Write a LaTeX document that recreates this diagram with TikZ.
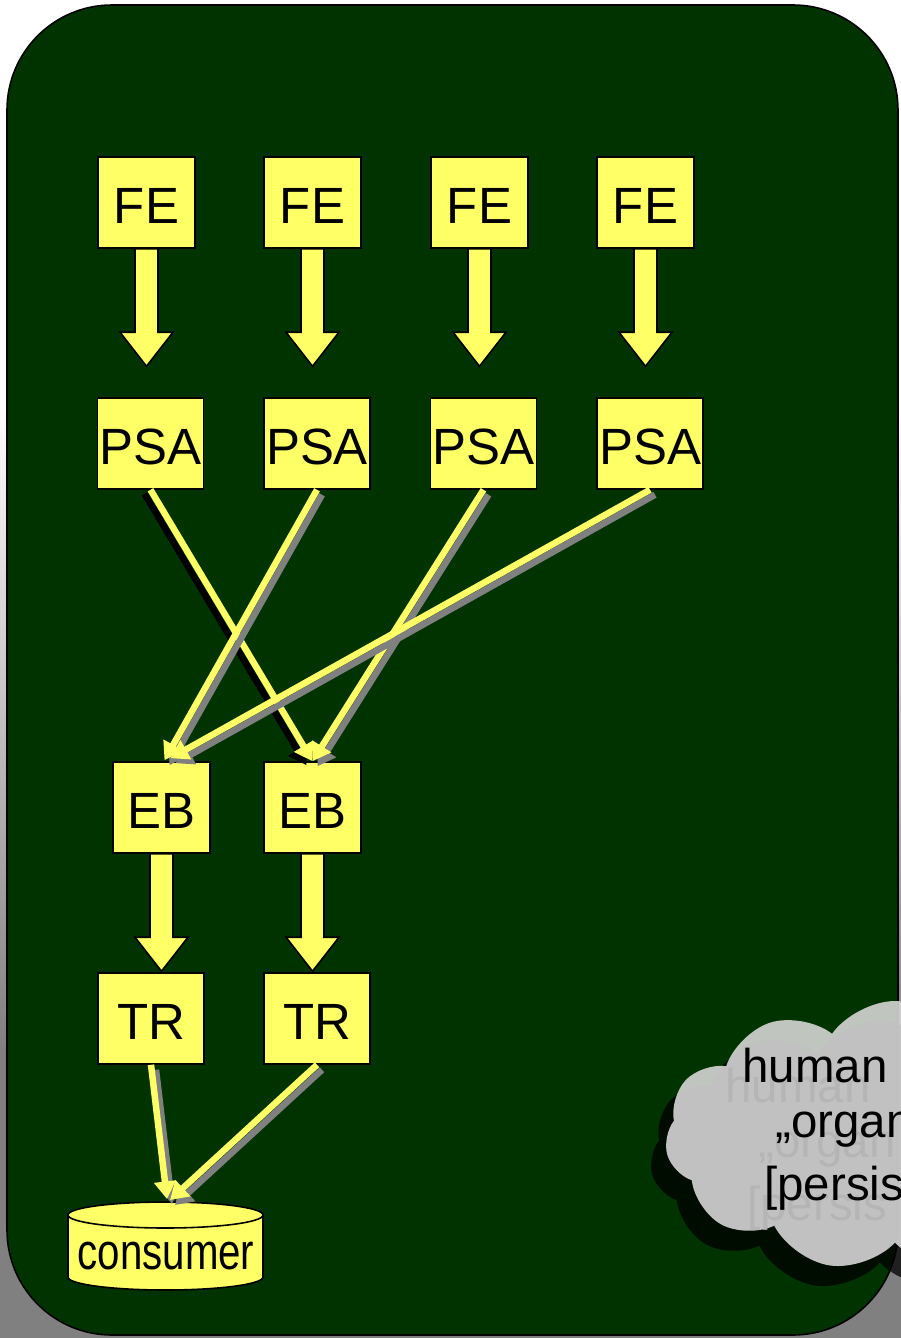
\documentclass[tikz,border=0pt]{standalone}
\usepackage{fontspec}
\setmainfont{Liberation Sans}
\usetikzlibrary{calc,arrows.meta,shapes.symbols}

\definecolor{boardgreen}{RGB}{0,51,0}
\definecolor{boxyellow}{RGB}{255,255,102}
\definecolor{shadowgray}{RGB}{128,128,128}
\definecolor{cloudgray}{RGB}{213,213,213}
\definecolor{ghostgray}{RGB}{181,181,181}

\tikzset{
  box/.style={rectangle, draw=black, line width=0.9pt, fill=boxyellow, inner sep=0pt,
    minimum width=1.94cm, minimum height=1.82cm, text height=0.85cm, text depth=0pt,
    font=\fontsize{29}{34}\selectfont},
  widebox/.style={box, minimum width=2.12cm},
  fatarrow/.style={draw=black, line width=0.9pt, fill=boxyellow, line join=miter},
  link/.style={draw=boxyellow, line width=3.7pt, -{Triangle[width=12pt,length=10pt]}},
  linkshadow/.style={link, draw=shadowgray, transform canvas={shift={(5,5)}}},
  linkdark/.style={link, draw=black, transform canvas={shift={(-6,4)}}},
  puffs/.style={cloud, cloud puffs=11, cloud puff arc=110, inner sep=0pt,
    minimum width=9.2cm, minimum height=5.4cm},
  cloudtext/.style={inner sep=0pt, anchor=base west, font=\fontsize{27}{32}\selectfont}
}

% fat arrow from the bottom of #1 towards the top of #2, stopping #3 short
\newcommand{\fatarrow}[3]{%
  \path (#1.south) coordinate (fa-a) (#1.south |- #2.north) coordinate (fa-b);
  \filldraw[fatarrow] ($(fa-a)+(-11.5,0)$) -- ($(fa-b)+(-11.5,-34-#3)$)
    -- ($(fa-b)+(-26.5,-34-#3)$) -- ($(fa-b)+(0,-#3)$) -- ($(fa-b)+(26.5,-34-#3)$)
    -- ($(fa-b)+(11.5,-34-#3)$) -- ($(fa-a)+(11.5,0)$) -- cycle;
}

\begin{document}
\begin{tikzpicture}[x=0.02cm,y=-0.02cm]
\useasboundingbox (0,0) rectangle (901,1338);
%background
\fill[white] (0,0) rectangle (901,400);
\shade[top color=white, bottom color=shadowgray] (0,400) rectangle (901,1050);
\fill[shadowgray] (0,1050) rectangle (901,1338);
\filldraw[fill=boardgreen, draw=black, line width=0.9pt, rounded corners=2.1cm] (7,5) rectangle (898,1335);

%front ends
\node[box] (fe1) at (146.5,202.5) {FE};
\node[box] (fe2) at (312.5,202.5) {FE};
\node[box] (fe3) at (479.5,202.5) {FE};
\node[box] (fe4) at (645.5,202.5) {FE};
%psa
\node[widebox] (psa1) at (150.5,443.5) {PSA};
\node[widebox] (psa2) at (317,443.5) {PSA};
\node[widebox] (psa3) at (483.5,443.5) {PSA};
\node[widebox] (psa4) at (650,443.5) {PSA};
%event builders
\node[box] (eb1) at (161.5,807.5) {EB};
\node[box] (eb2) at (312.5,807.5) {EB};
%transfer
\node[widebox] (tr1) at (151,1018.5) {TR};
\node[widebox] (tr2) at (317,1018.5) {TR};

%consumer drum
\filldraw[fill=boxyellow, draw=black, line width=0.9pt] (68,1215) -- (68,1277)
  arc[start angle=180, end angle=0, x radius=97.5, y radius=13] -- (263,1215)
  arc[start angle=0, end angle=-180, x radius=97.5, y radius=13] -- cycle;
\draw[line width=0.9pt] (68,1215) arc[start angle=180, end angle=0, x radius=97.5, y radius=13];
\node[inner sep=0pt, font=\fontsize{29}{34}\selectfont] (consumer) at (166,1256) {\scalebox{0.79}[1]{consumer}};
\coordinate (store) at (166,1202);

%fat arrows
\fatarrow{fe1}{psa1}{31}
\fatarrow{fe2}{psa2}{31}
\fatarrow{fe3}{psa3}{31}
\fatarrow{fe4}{psa4}{31}
\fatarrow{eb1}{tr1}{1}
\fatarrow{eb2}{tr2}{1}

%links psa -> eb
\draw[linkdark] (psa1.south) -- (eb2.north);
\draw[link] (psa1.south) -- (eb2.north);
\draw[linkshadow] (psa3.south) -- (eb2.north);
\draw[link] (psa3.south) -- (eb2.north);
\draw[linkshadow] (psa2.south) -- ($(eb1.north)+(3,-1)$);
\draw[link] (psa2.south) -- ($(eb1.north)+(3,-1)$);
\draw[linkshadow] (psa4.south) -- ($(eb1.north)+(9,-3)$);
\draw[link] (psa4.south) -- ($(eb1.north)+(9,-3)$);
%links tr -> consumer
\draw[linkshadow] (tr1.south) -- ($(store)+(1,-3)$);
\draw[link] (tr1.south) -- ($(store)+(1,-3)$);
\draw[linkshadow] (tr2.south) -- ($(store)+(4,-2)$);
\draw[link] (tr2.south) -- ($(store)+(4,-2)$);

%cloud
\node[puffs, fill=black, fill opacity=0.75] (cloudshadow) at (880,1156) {};
\node[puffs, fill=cloudgray, fill opacity=0.9] (thought) at (895,1136) {};
\node[cloudtext, text=ghostgray] (hum0) at (725,1102) {human};
\node[cloudtext, text=ghostgray] (org0) at (758,1157) {„organ};
\node[cloudtext, text=ghostgray] (per0) at (747,1220) {[persis};
\node[cloudtext] (hum) at (742,1082) {human};
\node[cloudtext] (org) at (775,1137) {„organ};
\node[cloudtext] (per) at (764,1200) {[persis};
\end{tikzpicture}
\end{document}
